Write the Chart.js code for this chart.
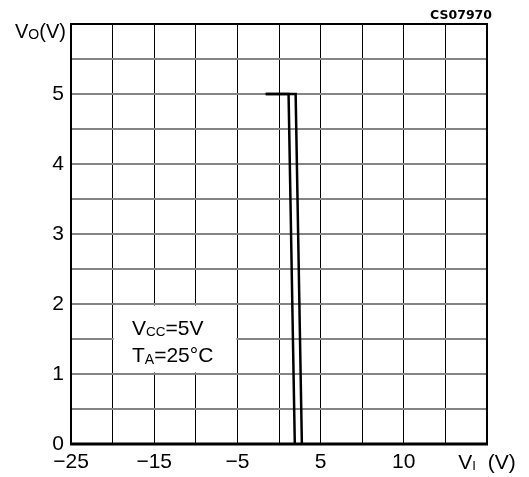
<!DOCTYPE html>
<html>
<head>
<meta charset="utf-8">
<script src="https://cdn.jsdelivr.net/npm/chart.js@4"></script>
<style>
  html, body { margin:0; padding:0; background:#fff; }
  #wrap { position:relative; width:529px; height:477px; }
</style>
</head>
<body>
<div id="wrap"><canvas id="c" width="529" height="477"></canvas></div>
<script>
// VO vs VI transfer curves, VCC=5V, TA=25°C
const xTickLabels = ["\u221225","","\u221215","","\u22125","","5","","10","",""];
const yTickLabels = ["0","","1","","2","","3","","4","","5","",""];

// two curves (rising / falling threshold)
const curveA_x = [-1.6, 1.15, 1.9];
const curveA_y = [5, 5, 0];
const curveB_x = [-1.6, 2.0, 2.75];
const curveB_y = [5, 5, 0];

const FONT = "'Liberation Sans', Arial, sans-serif";

function pts(xs, ys){ return xs.map((x,i)=>({x, y:ys[i]})); }

// draws "main" + subscript + rest, starting at x, baseline y
function subText(ctx, x, y, main, sub, rest, size, subSize, subDrop){
  ctx.font = `${size}px ${FONT}`;
  ctx.fillText(main, x, y);
  x += ctx.measureText(main).width;
  ctx.font = `${subSize}px ${FONT}`;
  ctx.fillText(sub, x, y + subDrop);
  x += ctx.measureText(sub).width;
  ctx.font = `${size}px ${FONT}`;
  ctx.fillText(rest, x, y);
  return x + ctx.measureText(rest).width;
}
function subWidth(ctx, main, sub, rest, size, subSize){
  ctx.font = `${size}px ${FONT}`;
  let w = ctx.measureText(main).width + ctx.measureText(rest).width;
  ctx.font = `${subSize}px ${FONT}`;
  return w + ctx.measureText(sub).width;
}

const decor = {
  id: "decor",
  beforeDatasetsDraw(chart){
    const {ctx, scales:{x, y}} = chart;
    // white note box over the grid
    const l = x.getPixelForValue(-20), r = x.getPixelForValue(-5);
    const t = y.getPixelForValue(2), b = y.getPixelForValue(1);
    ctx.save();
    ctx.fillStyle = "#fff";
    ctx.fillRect(l + 1, t + 1.5, r - l - 2, b - t - 3);
    ctx.fillStyle = "#000";
    ctx.textBaseline = "alphabetic";
    subText(ctx, 132, 335, "V", "CC", "=5V", 21, 13.5, 1);
    subText(ctx, 132, 362, "T", "A", "=25\u00B0C", 21, 14, 2);
    ctx.restore();
  },
  afterDraw(chart){
    const {ctx, chartArea:a} = chart;
    ctx.save();
    ctx.strokeStyle = "#000";
    ctx.lineWidth = 2;
    ctx.beginPath();
    ctx.moveTo(a.left, a.bottom); ctx.lineTo(a.left, a.top);
    ctx.lineTo(a.right, a.top); ctx.lineTo(a.right, a.bottom);
    ctx.stroke();
    ctx.lineWidth = 3;
    ctx.beginPath();
    ctx.moveTo(a.left - 1, a.bottom); ctx.lineTo(a.right + 1, a.bottom);
    ctx.stroke();

    ctx.fillStyle = "#000";
    ctx.textBaseline = "alphabetic";
    // axis titles
    subText(ctx, 15, 38, "V", "O", "(V)", 20, 14, 1);
    const w = subWidth(ctx, "V", "I", "  (V)", 21, 13);
    subText(ctx, a.right - w/2, 469, "V", "I", "  (V)", 21, 13, 1);
    // figure code
    ctx.font = `bold 12.5px 'DejaVu Sans', sans-serif`;
    ctx.textAlign = "right";
    ctx.fillText("CS07970", 492, 19);
    ctx.restore();
  }
};

new Chart(document.getElementById("c"), {
  type: "line",
  data: {
    datasets: [
      { data: pts(curveA_x, curveA_y), borderColor:"#000", borderWidth:2.5, pointRadius:0, tension:0 },
      { data: pts(curveB_x, curveB_y), borderColor:"#000", borderWidth:2.5, pointRadius:0, tension:0 },
    ]
  },
  options: {
    responsive:false,
    animation:false,
    events:[],
    layout:{ padding:{ top:24, right:42, left:0, bottom:0 } },
    plugins:{ legend:{ display:false }, tooltip:{ enabled:false } },
    scales:{
      x:{
        type:"linear", min:-25, max:25,
        border:{ display:false },
        grid:{ color:"#000", lineWidth:1, drawTicks:false },
        ticks:{ stepSize:5, autoSkip:false, maxRotation:0, padding:6, color:"#000",
                font:{ family:FONT, size:21 },
                callback:(v,i)=>xTickLabels[i] },
        afterFit:(s)=>{ s.height = 33; }
      },
      y:{
        type:"linear", min:0, max:6,
        border:{ display:false },
        grid:{ color:"#848484", lineWidth:2, drawTicks:false },
        ticks:{ stepSize:0.5, autoSkip:false, padding:7, color:"#000",
                font:{ family:FONT, size:21 },
                callback:(v,i)=>yTickLabels[i] },
        afterFit:(s)=>{ s.width = 71; }
      }
    }
  },
  plugins:[decor]
});
</script>
</body>
</html>
